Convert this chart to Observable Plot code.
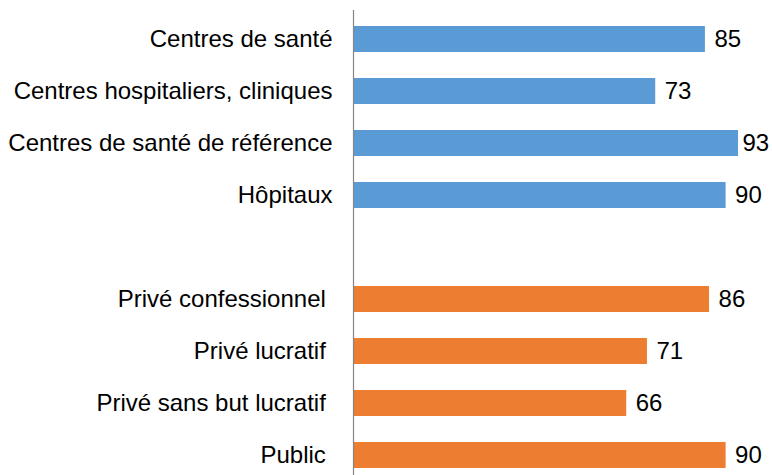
<!DOCTYPE html>
<html>
<head>
<meta charset="utf-8">
<script src="https://cdn.jsdelivr.net/npm/d3@7"></script>
<script src="https://cdn.jsdelivr.net/npm/@observablehq/plot@0.6"></script>
<style>
  html, body { margin: 0; padding: 0; background: #fff; }
  #chart svg text { white-space: pre; }
</style>
</head>
<body>
<div id="chart"></div>
<script>
const facilityTypes = ["Centres de santé", "Centres hospitaliers, cliniques", "Centres de santé de référence", "Hôpitaux"];
const facilityValues = [85, 73, 93, 90];
const sectors = ["Privé confessionnel ", "Privé lucratif ", "Privé sans but lucratif ", "Public "];
const sectorValues = [86, 71, 66, 90];
const gapKey = "\u200b";
const blue = "#5B9BD5";
const orange = "#ED7D31";

const data = [
  ...facilityTypes.map((c, i) => ({cat: c, value: facilityValues[i], color: blue})),
  ...sectors.map((c, i) => ({cat: c, value: sectorValues[i], color: orange}))
];
const domain = [...facilityTypes, gapKey, ...sectors];
// labels near the right edge are nudged left so they stay inside the chart
const fitsRight = d => d.value < 92;

const chart = Plot.plot({
  width: 772,
  height: 475,
  marginLeft: 353,
  marginRight: 5,
  marginTop: 10,
  marginBottom: 0,
  style: {fontFamily: "'Liberation Sans', Arial, sans-serif", fontSize: "24px", color: "#000", background: "#fff"},
  x: {domain: [0, 100], axis: null},
  y: {domain, range: [-2, 495], padding: 0.5, align: 0.5, label: null},
  marks: [
    Plot.barX(data, {x: "value", y: "cat", fill: d => d.color}),
    Plot.ruleX([0], {stroke: "#868686", strokeWidth: 1.2}),
    Plot.axisY({anchor: "left", tickSize: 0, tickPadding: 21, fontSize: 24, label: null, tickFormat: d => d === gapKey ? "" : d, fill: "#000"}),
    Plot.text(data.filter(fitsRight), {x: "value", y: "cat", text: d => String(d.value), textAnchor: "start", dx: 9, fontSize: 24, fill: "#000"}),
    Plot.text(data.filter(d => !fitsRight(d)), {x: "value", y: "cat", text: d => String(d.value), textAnchor: "start", dx: 4, fontSize: 24, fill: "#000"})
  ]
});
document.getElementById("chart").appendChild(chart);
</script>
</body>
</html>
